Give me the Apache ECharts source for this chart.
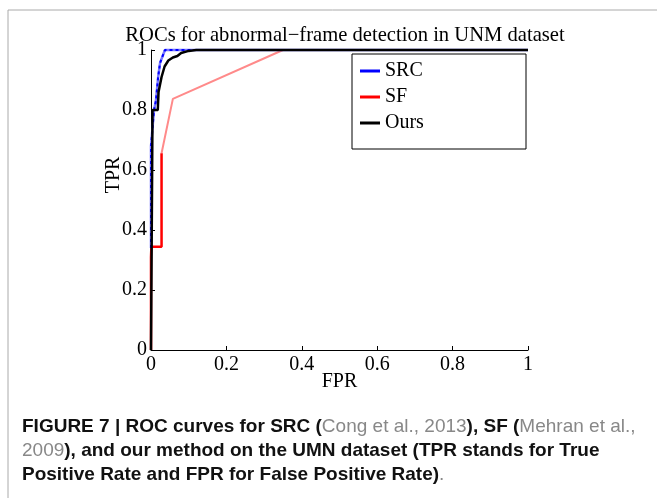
<!DOCTYPE html>
<html>
<head>
<meta charset="utf-8">
<script src="https://cdn.jsdelivr.net/npm/echarts@6/dist/echarts.min.js"></script>
<style>
  html, body { margin: 0; padding: 0; background: #fff; }
  #chart { width: 657px; height: 498px; }
</style>
</head>
<body>
<div id="chart"></div>
<script>
// [FPR, TPR] pairs
const srcPoints = [[0, 0.34], [0, 0.68], [0.008, 0.8], [0.013, 0.83], [0.019, 0.91], [0.024, 0.957], [0.037, 1], [0.1, 1], [1, 1]];
const sfPoints = [[0, 0], [0, 0.31], [0.001, 0.344], [0.028, 0.344], [0.028, 0.656], [0.058, 0.837], [0.35, 1], [1, 1]];
const oursPoints = [[0, 0], [0.004, 0.8], [0.018, 0.8], [0.02, 0.86], [0.028, 0.91], [0.036, 0.945], [0.046, 0.965], [0.058, 0.975], [0.07, 0.98], [0.08, 0.99], [0.1, 0.997], [0.12, 1], [1, 1]];
const ticks = [0, 0.2, 0.4, 0.6, 0.8, 1];

const serif = 'Liberation Serif';
const sans = 'Liberation Sans';

const chart = echarts.init(document.getElementById('chart'));

const axisCommon = {
    type: 'value',
    min: ticks[0],
    max: ticks[ticks.length - 1],
    interval: 0.2,
    splitLine: { show: false },
    axisLine: { show: true, lineStyle: { color: '#000', width: 1 } },
    axisTick: { show: true, inside: true, length: 4, lineStyle: { color: '#000' } },
    axisLabel: { color: '#000', fontFamily: serif, fontSize: 20, margin: 4 },
    nameLocation: 'middle',
    nameTextStyle: { color: '#000', fontFamily: serif, fontSize: 20 }
};

chart.setOption({
    animation: false,
    title: {
        text: 'ROCs for abnormal\u2212frame detection in UNM dataset',
        left: 340, textAlign: 'center', top: 20,
        textStyle: { color: '#000', fontFamily: serif, fontSize: 20.6, fontWeight: 'normal' }
    },
    grid: { left: 151, right: 129, top: 50, bottom: 148 },
    xAxis: Object.assign({}, axisCommon, {
        name: 'FPR', nameGap: 22, nameMoveOverlap: false,
        axisLabel: Object.assign({}, axisCommon.axisLabel, { margin: 5 })
    }),
    yAxis: Object.assign({}, axisCommon),
    legend: {
        orient: 'vertical',
        left: 355, top: 56,
        icon: 'rect', itemWidth: 20, itemHeight: 3, itemGap: 6,
        textStyle: { color: '#000', fontFamily: serif, fontSize: 20, lineHeight: 20 },
        data: [
            { name: 'SRC', itemStyle: { color: '#0000ff' } },
            { name: 'SF', itemStyle: { color: '#ff0000' } },
            { name: 'Ours', itemStyle: { color: '#000000' } }
        ]
    },
    graphic: [
        { type: 'line', shape: { x1: 8, y1: 10, x2: 657, y2: 10 }, style: { stroke: '#aaa', lineWidth: 1 } },
        { type: 'line', shape: { x1: 8, y1: 10, x2: 8, y2: 498 }, style: { stroke: '#aaa', lineWidth: 1 } },
        { type: 'rect', shape: { x: 352, y: 54, width: 174, height: 95 }, style: { fill: 'none', stroke: '#000', lineWidth: 1 }, z: 10 },
        {
            type: 'text', x: 114, y: 175, rotation: Math.PI / 2,
            style: { text: 'TPR', fontFamily: serif, fontSize: 20, fill: '#000', align: 'center', verticalAlign: 'middle' }
        },
        {
            type: 'text', left: 22, top: 417,
            style: {
                text: '{b|FIGURE 7 | ROC curves for SRC (}{g|Cong et al., 2013}{b|), SF (}{g|Mehran et al.,}\n' +
                      '{g|2009}{b|), and our method on the UMN dataset (TPR stands for True}\n' +
                      '{b|Positive Rate and FPR for False Positive Rate)}{g|.}',
                rich: {
                    b: { fontFamily: sans, fontSize: 19, fontWeight: 'bold', fill: '#111', lineHeight: 24 },
                    g: { fontFamily: sans, fontSize: 19, fill: '#888', lineHeight: 24 }
                }
            }
        }
    ],
    series: [
        { name: 'SF', type: 'line', data: sfPoints.slice(4), showSymbol: false, clip: false,
          lineStyle: { color: '#ff8a8a', width: 2 }, itemStyle: { color: '#ff0000' } },
        { name: 'SF', type: 'line', data: sfPoints.slice(0, 5), showSymbol: false, clip: false,
          lineStyle: { color: '#ff0000', width: 2.5 }, itemStyle: { color: '#ff0000' } },
        { name: 'SRC', type: 'line', data: srcPoints, showSymbol: false, clip: false,
          lineStyle: { color: '#7878ff', width: 2.5 }, itemStyle: { color: '#0000ff' } },
        { name: 'SRC', type: 'line', data: srcPoints, showSymbol: false, clip: false,
          lineStyle: { color: '#0000ff', width: 2, type: [3, 3] }, itemStyle: { color: '#0000ff' } },
        { name: 'Ours', type: 'line', data: oursPoints, showSymbol: false, clip: false,
          lineStyle: { color: '#000', width: 2.5 }, itemStyle: { color: '#000' } }
    ]
});
</script>
</body>
</html>
